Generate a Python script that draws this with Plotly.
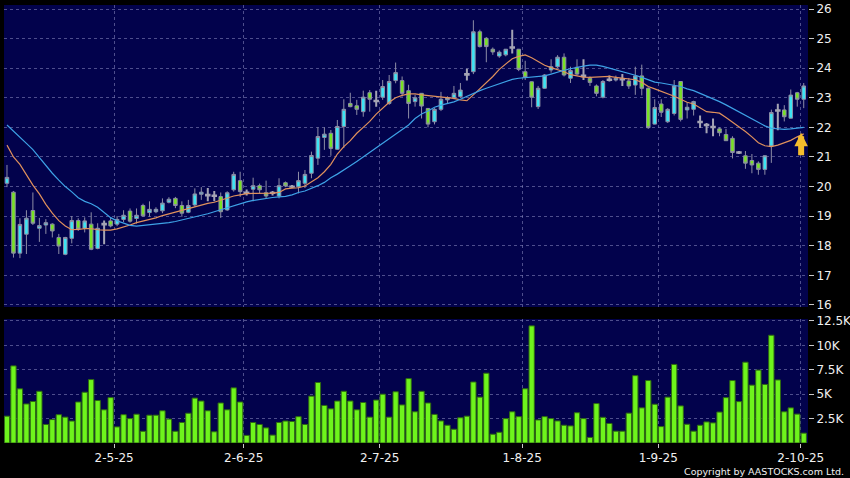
import plotly.graph_objects as go
from plotly.subplots import make_subplots

# daily candles, 3 Apr 2025 .. 2 Oct 2025 (trading days)
opens = [20.11, 19.81, 17.75, 18.39, 19.19, 18.59, 18.70, 18.73, 18.28, 17.71,
         18.25, 18.85, 18.59, 18.73, 17.91, 18.72, 18.84, 18.73, 18.89, 19.17,
         18.92, 19.36, 19.12, 19.15, 19.18, 19.47, 19.60, 19.36, 19.13, 19.38,
         19.74, 19.70, 19.68, 19.66, 19.21, 19.89, 20.20, 19.78, 19.91, 20.03,
         19.79, 19.78, 19.68, 20.13, 19.99, 19.99, 20.11, 20.45, 20.96, 21.66,
         21.80, 21.26, 22.03, 22.81, 22.73, 22.53, 23.17, 22.88, 23.02, 22.81,
         23.58, 23.58, 23.24, 22.87, 23.15, 22.64, 22.19, 22.61, 22.93, 23.00,
         23.04, 23.78, 23.88, 25.23, 25.01, 24.64, 24.41, 24.45, 24.69, 24.64,
         23.88, 23.54, 22.70, 23.32, 23.94, 24.05, 24.37, 23.66, 24.03, 23.73,
         23.66, 23.40, 23.02, 23.60, 23.60, 23.62, 23.57, 23.43, 23.74, 23.32,
         22.11, 22.79, 22.19, 22.47, 23.55, 22.59, 22.61, 22.17, 22.07, 22.00,
         21.95, 21.76, 21.63, 21.14, 21.04, 20.88, 20.79, 20.58, 21.37, 22.56,
         22.59, 22.31, 23.17, 22.95]
highs = [20.73, 19.85, 18.93, 19.20, 19.80, 18.94, 18.90, 18.76, 18.40, 18.30,
         19.00, 18.93, 18.96, 19.13, 18.76, 18.85, 18.96, 19.00, 19.20, 19.26,
         19.26, 19.42, 19.50, 19.30, 19.60, 19.64, 19.65, 19.50, 19.55, 19.94,
         19.98, 19.95, 19.85, 19.80, 19.84, 20.50, 20.50, 19.90, 20.30, 20.10,
         20.20, 19.85, 20.28, 20.17, 20.05, 20.50, 20.56, 21.18, 22.00, 22.00,
         21.91, 22.25, 22.95, 23.17, 22.93, 23.24, 23.26, 23.24, 23.60, 23.77,
         24.19, 23.72, 23.44, 23.10, 23.16, 22.65, 22.65, 23.20, 23.05, 23.40,
         23.50, 23.98, 25.62, 25.30, 25.05, 24.70, 24.60, 24.65, 25.30, 24.65,
         24.25, 23.55, 23.40, 23.80, 24.30, 24.44, 24.50, 24.05, 24.30, 24.30,
         23.72, 23.45, 23.60, 23.75, 23.75, 23.80, 23.67, 24.05, 24.12, 23.35,
         22.95, 22.95, 22.65, 23.60, 23.55, 22.85, 22.90, 22.40, 22.15, 22.30,
         22.00, 21.95, 21.70, 21.20, 21.20, 21.10, 20.85, 21.06, 22.60, 22.80,
         22.75, 23.28, 23.20, 23.50]
lows = [19.98, 17.60, 17.58, 17.72, 18.70, 18.13, 18.40, 18.28, 17.72, 17.68,
        18.08, 18.50, 18.45, 17.85, 17.88, 18.05, 18.62, 18.66, 18.80, 18.78,
        18.75, 18.98, 18.98, 19.10, 19.10, 19.43, 19.27, 18.98, 19.10, 19.32,
        19.55, 19.50, 19.50, 18.94, 19.18, 19.83, 19.65, 19.70, 19.50, 19.77,
        19.60, 19.70, 19.60, 19.98, 19.95, 19.77, 19.95, 20.28, 20.73, 21.24,
        21.04, 21.24, 21.30, 22.68, 22.42, 22.36, 22.53, 22.70, 22.93, 22.76,
        23.49, 23.04, 22.30, 22.70, 22.30, 22.00, 22.10, 22.55, 22.80, 22.95,
        23.00, 23.58, 23.80, 24.70, 24.20, 24.45, 24.35, 24.40, 24.50, 23.90,
        23.60, 22.68, 22.62, 23.30, 23.85, 24.00, 23.72, 23.50, 23.75, 23.60,
        23.40, 23.05, 22.98, 23.55, 23.55, 23.40, 23.30, 23.10, 23.08, 21.95,
        22.10, 22.35, 22.15, 22.40, 22.20, 22.30, 22.40, 21.98, 21.80, 21.70,
        21.70, 21.55, 20.95, 21.10, 20.60, 20.45, 20.40, 20.40, 20.80, 21.90,
        22.20, 22.30, 22.70, 22.65]
closes = [20.31, 17.75, 18.72, 18.93, 18.76, 18.68, 18.78, 18.50, 17.99, 18.28,
          18.85, 18.56, 18.84, 17.88, 18.59, 18.74, 18.67, 18.89, 19.03, 18.83,
          19.03, 19.01, 19.23, 19.23, 19.44, 19.57, 19.36, 19.10, 19.36, 19.75,
          19.81, 19.72, 19.70, 19.15, 19.79, 20.41, 19.83, 19.80, 20.03, 19.89,
          19.68, 19.79, 20.03, 20.02, 20.00, 20.20, 20.41, 21.05, 21.69, 21.77,
          21.29, 22.03, 22.61, 22.70, 22.61, 23.02, 22.95, 22.90, 23.38, 23.55,
          23.85, 23.15, 22.81, 23.00, 22.72, 22.11, 22.61, 22.95, 23.00, 23.15,
          23.26, 23.80, 25.23, 24.73, 24.73, 24.55, 24.54, 24.64, 24.71, 23.96,
          23.69, 23.02, 23.32, 23.77, 24.05, 24.37, 23.77, 23.92, 23.80, 23.75,
          23.52, 23.15, 23.55, 23.62, 23.66, 23.63, 23.40, 23.74, 23.32, 21.99,
          22.67, 22.51, 22.61, 23.40, 22.27, 22.68, 22.87, 22.19, 22.09, 22.02,
          21.82, 21.55, 21.15, 21.16, 20.79, 20.73, 20.58, 21.04, 22.50, 22.58,
          22.36, 23.09, 22.95, 23.40]

# moving averages as drawn (orange = short, blue = long)
ma_short = [21.40, 21.00, 20.75, 20.40, 20.05, 19.75, 19.40, 19.10, 18.85, 18.67,
            18.54, 18.55, 18.58, 18.58, 18.54, 18.53, 18.53, 18.57, 18.63, 18.70,
            18.78, 18.83, 18.87, 18.94, 19.02, 19.08, 19.14, 19.21, 19.27, 19.33,
            19.39, 19.43, 19.47, 19.54, 19.62, 19.68, 19.72, 19.76, 19.77, 19.77,
            19.77, 19.78, 19.80, 19.92, 19.95, 19.96, 20.02, 20.15, 20.30, 20.50,
            20.75, 21.10, 21.35, 21.55, 21.80, 22.00, 22.20, 22.45, 22.65, 22.85,
            23.00, 23.08, 23.13, 23.13, 23.10, 23.08, 23.06, 23.04, 23.02, 22.98,
            22.93, 22.90, 23.10, 23.30, 23.50, 23.72, 23.96, 24.15, 24.32, 24.40,
            24.45, 24.35, 24.22, 24.10, 24.02, 23.95, 23.88, 23.78, 23.73, 23.70,
            23.69, 23.70, 23.73, 23.72, 23.69, 23.66, 23.64, 23.61, 23.52, 23.38,
            23.30, 23.22, 23.13, 23.05, 22.95, 22.85, 22.79, 22.65, 22.53, 22.51,
            22.48, 22.33, 22.18, 22.02, 21.86, 21.68, 21.48, 21.38, 21.35, 21.40,
            21.47, 21.56, 21.68, 21.78]
ma_long = [22.08, 21.88, 21.69, 21.46, 21.25, 20.98, 20.70, 20.45, 20.22, 20.00,
           19.82, 19.62, 19.50, 19.42, 19.30, 19.12, 18.95, 18.84, 18.76, 18.69,
           18.66, 18.68, 18.70, 18.72, 18.75, 18.78, 18.82, 18.87, 18.92, 18.97,
           19.02, 19.08, 19.15, 19.22, 19.29, 19.35, 19.42, 19.48, 19.53, 19.57,
           19.60, 19.63, 19.65, 19.67, 19.72, 19.80, 19.85, 19.93, 20.03, 20.14,
           20.30, 20.42, 20.55, 20.70, 20.85, 21.00, 21.15, 21.30, 21.45, 21.60,
           21.75, 21.92, 22.08, 22.30, 22.45, 22.55, 22.68, 22.75, 22.80, 22.86,
           22.95, 23.05, 23.14, 23.24, 23.32, 23.39, 23.47, 23.55, 23.62, 23.66,
           23.68, 23.69, 23.71, 23.74, 23.80, 23.87, 23.93, 23.98, 24.03, 24.07,
           24.10, 24.10, 24.06, 24.00, 23.95, 23.89, 23.84, 23.76, 23.69, 23.60,
           23.53, 23.50, 23.46, 23.42, 23.38, 23.30, 23.24, 23.15, 23.06, 22.97,
           22.87, 22.76, 22.64, 22.52, 22.42, 22.30, 22.18, 22.05, 21.97, 21.94,
           21.93, 21.95, 21.97, 22.00]

# volume in thousands
volume_k = [2.75, 7.9, 5.55, 4.0, 4.25, 5.3, 1.9, 2.4, 2.9, 2.65,
            2.25, 4.2, 5.2, 6.5, 4.35, 3.4, 4.65, 1.65, 2.9, 2.5,
            2.95, 1.2, 2.85, 2.85, 3.3, 2.45, 1.2, 2.1, 3.05, 4.6,
            4.3, 3.3, 1.15, 4.1, 3.4, 5.65, 4.2, 0.78, 2.1, 1.9,
            1.55, 0.81, 2.1, 2.25, 2.2, 2.7, 1.9, 4.8, 6.2, 3.85,
            3.5, 4.3, 5.3, 4.3, 3.4, 4.15, 2.65, 4.4, 5.0, 2.65,
            5.25, 3.9, 6.6, 3.2, 5.3, 4.1, 2.93, 2.26, 1.82, 1.41,
            2.59, 2.75, 6.25, 4.7, 7.15, 0.9, 1.1, 2.5, 3.2, 2.7,
            5.56, 12.0, 2.36, 2.7, 2.5, 2.26, 1.82, 1.75, 3.1, 2.5,
            0.57, 4.04, 2.63, 2.0, 1.21, 1.21, 3.06, 6.9, 3.6, 6.4,
            3.97, 1.68, 4.7, 8.05, 3.8, 1.92, 1.21, 1.82, 2.16, 2.06,
            3.17, 4.65, 6.4, 4.24, 8.28, 5.93, 7.47, 6.0, 11.04, 6.46,
            3.2, 3.6, 2.96, 1.01]

tick_labels = ['2-5-25', '2-6-25', '2-7-25', '1-8-25', '1-9-25', '2-10-25']
tick_bars = [17, 37, 58, 80, 101, 123]

price_ticks = list(range(16, 27))
volume_ticks = [2.5, 5, 7.5, 10, 12.5]
volume_ticktext = ['2.5K', '5K', '7.5K', '10K', '12.5K']

NAVY = '#02024c'
GRID = 'rgba(130,130,185,0.6)'
UP = '#3ce4f4'
DOWN = '#78e224'
WICK = '#8e8ea6'
FONT = 'DejaVu Sans'

x = list(range(len(closes)))
doji = [abs(c - o) < 0.035 for o, c in zip(opens, closes)]


def pick(values, keep):
    return [v for v, k in zip(values, keep) if k]


body = [not d for d in doji]

fig = make_subplots(rows=2, cols=1, shared_xaxes=True)

fig.add_trace(go.Candlestick(
    x=pick(x, body), open=pick(opens, body), high=pick(highs, body),
    low=pick(lows, body), close=pick(closes, body),
    increasing=dict(fillcolor=UP, line=dict(color=WICK, width=1)),
    decreasing=dict(fillcolor=DOWN, line=dict(color=WICK, width=1)),
    whiskerwidth=0, hoverinfo='skip'), row=1, col=1)

fig.add_trace(go.Candlestick(
    x=pick(x, doji), open=pick(opens, doji), high=pick(highs, doji),
    low=pick(lows, doji), close=pick(closes, doji),
    increasing=dict(fillcolor='#a4a4b4', line=dict(color='#a4a4b4', width=2)),
    decreasing=dict(fillcolor='#a4a4b4', line=dict(color='#a4a4b4', width=2)),
    whiskerwidth=0, hoverinfo='skip'), row=1, col=1)

fig.add_trace(go.Scatter(x=x, y=ma_short, mode='lines',
                         line=dict(color='#e0915c', width=1.2)), row=1, col=1)
fig.add_trace(go.Scatter(x=x, y=ma_long, mode='lines',
                         line=dict(color='#3ea2e6', width=1.2)), row=1, col=1)

fig.add_trace(go.Bar(x=x, y=volume_k, marker=dict(color='#6ef41c', line=dict(color='#2f6a12', width=1))),
              row=2, col=1)

grid_x = [t - 0.46 for t in tick_bars]
x_range = [-0.46, len(closes) + 0.66 - 1]

axis_common = dict(showgrid=True, gridcolor=GRID, griddash='3px,3px', gridwidth=1,
                   zeroline=False, showline=False, automargin=False)

fig.update_xaxes(range=x_range, tickmode='array', tickvals=grid_x, **axis_common)
fig.update_xaxes(showticklabels=False, ticks='', rangeslider_visible=False, row=1, col=1)
fig.update_xaxes(ticktext=tick_labels, ticks='outside', ticklen=4, tickcolor='#c8c8c8',
                 tickfont=dict(family=FONT, size=12, color='#f0f0f0'),
                 rangeslider_visible=False, row=2, col=1)

fig.update_yaxes(side='right', ticks='outside', ticklen=5, tickcolor='#c8c8c8',
                 tickfont=dict(family=FONT, size=12, color='#f0f0f0'), **axis_common)
fig.update_yaxes(range=[15.93, 26.135], tickmode='array', tickvals=price_ticks,
                 domain=[0.3105, 1.0], row=1, col=1)
fig.update_yaxes(range=[0, 12.7], tickmode='array', tickvals=volume_ticks,
                 ticktext=volume_ticktext, domain=[0.0, 0.283], row=2, col=1)

# up arrow next to the last candle
fig.add_annotation(x=122.6, y=21.82, xref='x', yref='y', ax=0, ay=24, text='',
                   showarrow=True, arrowhead=2, arrowsize=0.45, arrowwidth=6,
                   arrowcolor='#f4bc2c', standoff=0)

fig.add_annotation(x=1.047, y=-0.064, xref='paper', yref='paper', showarrow=False,
                   xanchor='right', yanchor='middle', text='Copyright by AASTOCKS.com Ltd.',
                   font=dict(family=FONT, size=9.5, color='#f0f0f0'))

fig.update_layout(
    width=850, height=478,
    margin=dict(l=4, r=42, t=5, b=35),
    paper_bgcolor='black', plot_bgcolor=NAVY,
    showlegend=False, bargap=0.18, boxgap=0.22,
    hovermode=False,
)

# drop the browser's default page margin so the figure sits at the top-left corner
fig.write_html("out.html", config={'displayModeBar': False},
               post_script="document.body.style.margin='0';")
